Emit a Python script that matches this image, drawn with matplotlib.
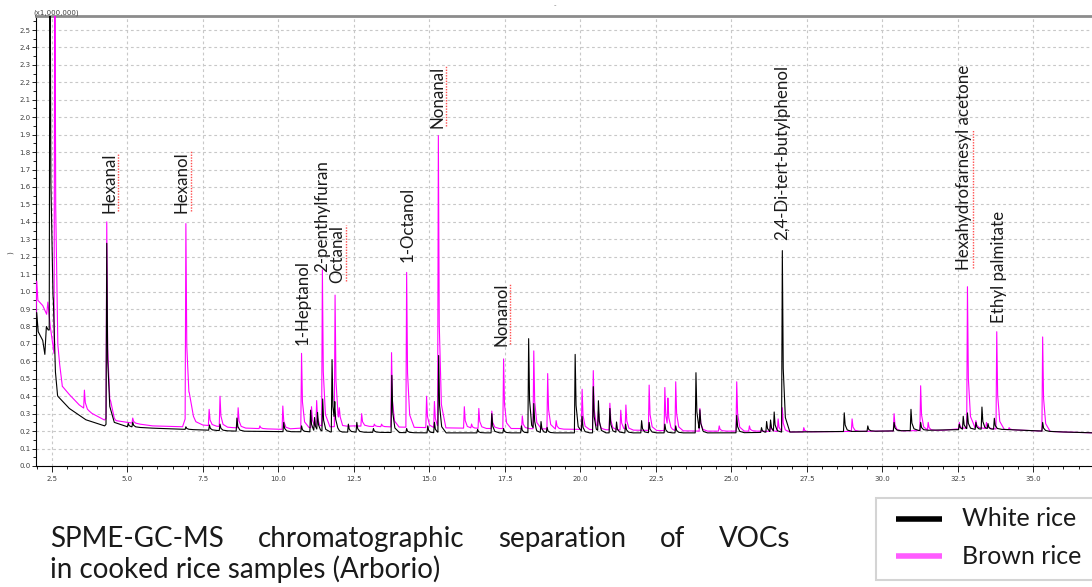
import numpy as np
import matplotlib.pyplot as plt
from matplotlib.ticker import MultipleLocator, FormatStrFormatter
from matplotlib.lines import Line2D
from matplotlib.patches import Rectangle

# retention time (min) / intensity (x1,000,000)

# White rice: baseline knots and peak apexes
white_base_rt = [1.98, 2.00, 2.05, 2.20, 2.27, 2.32, 2.38, 2.55, 2.62, 2.70, 3.08, 3.63,
                 4.25, 4.40, 5.00, 5.84, 6.94, 8.60, 10.15, 12.0, 15.0, 20.0, 25.0,
                 27.0, 30.0, 33.0, 34.0, 36.0, 37.0]
white_base_int = [0.50, 0.88, 0.77, 0.72, 0.64, 0.80, 0.78, 0.78, 0.45, 0.40, 0.33, 0.265,
                  0.23, 0.26, 0.225, 0.217, 0.21, 0.20, 0.197, 0.195, 0.19, 0.19, 0.19,
                  0.195, 0.20, 0.21, 0.21, 0.195, 0.19]
white_peak_rt = [2.44, 4.32, 5.03, 5.18, 6.94, 7.72, 8.07, 8.63, 10.18, 10.77, 11.07, 11.20,
                 11.30, 11.47, 11.78, 11.87, 12.32, 12.60, 13.15, 13.76, 14.25, 14.95, 15.17,
                 15.31, 16.60, 17.07, 17.46, 18.05, 18.29, 18.46, 18.70, 18.90, 19.83, 20.06,
                 20.43, 20.60, 20.98, 21.20, 21.50, 22.03, 22.28, 22.80, 23.16, 23.83, 23.96,
                 25.18, 26.00, 26.17, 26.30, 26.42, 26.69, 28.74, 29.52, 30.39, 30.95, 31.27,
                 32.55, 32.68, 32.82, 33.10, 33.30, 33.50, 33.71, 35.31]
white_peak_int = [3.20, 1.277, 0.245, 0.25, 0.225, 0.235, 0.24, 0.275, 0.25, 0.23, 0.32, 0.27,
                  0.30, 0.38, 0.61, 0.32, 0.24, 0.25, 0.215, 0.52, 0.215, 0.23, 0.25,
                  0.63, 0.21, 0.30, 0.215, 0.23, 0.73, 0.335, 0.254, 0.22, 0.64, 0.28,
                  0.455, 0.363, 0.33, 0.25, 0.24, 0.26, 0.25, 0.24, 0.23, 0.535, 0.30,
                  0.29, 0.22, 0.254, 0.26, 0.305, 1.235, 0.305, 0.23, 0.25, 0.325, 0.25,
                  0.24, 0.283, 0.30, 0.25, 0.337, 0.24, 0.273, 0.25]

# Brown rice
brown_base_rt = [1.98, 2.00, 2.04, 2.20, 2.33, 2.37, 2.45, 2.70, 2.76, 2.86, 3.08, 3.41,
                 3.74, 4.24, 4.45, 4.63, 5.00, 5.84, 6.83, 7.05, 7.27, 7.50, 8.50, 9.30,
                 10.1, 11.0, 12.5, 13.5, 15.0, 17.0, 18.0, 20.0, 22.0, 24.0, 26.0, 27.0,
                 30.0, 32.0, 33.0, 34.0, 36.0, 37.0]
brown_base_int = [0.85, 1.06, 0.95, 0.92, 0.87, 0.94, 0.80, 0.49, 0.46, 0.455, 0.41, 0.35,
                  0.31, 0.264, 0.30, 0.26, 0.25, 0.23, 0.225, 0.34, 0.254, 0.235, 0.22, 0.215,
                  0.21, 0.22, 0.23, 0.225, 0.22, 0.215, 0.215, 0.21, 0.205, 0.20, 0.20, 0.195,
                  0.20, 0.205, 0.22, 0.21, 0.195, 0.19]
brown_peak_rt = [2.60, 3.58, 4.32, 5.18, 6.94, 7.71, 8.07, 8.67, 9.39, 10.15, 10.77, 11.10,
                 11.27, 11.46, 11.88, 12.02, 12.76, 13.18, 13.42, 13.75, 14.25, 14.91, 15.17,
                 15.30, 16.16, 16.40, 16.64, 17.07, 17.46, 18.08, 18.46, 18.92, 19.20, 20.06,
                 20.43, 20.60, 20.98, 21.34, 21.51, 22.28, 22.80, 22.90, 23.16, 23.96, 24.60,
                 25.18, 25.60, 26.30, 26.55, 26.69, 27.40, 29.00, 30.39, 31.27, 31.52, 32.55,
                 32.82, 33.10, 33.45, 33.79, 34.20, 35.31]
brown_peak_int = [3.20, 0.435, 1.40, 0.275, 1.39, 0.325, 0.40, 0.334, 0.23, 0.344, 0.646, 0.34,
                  0.37, 1.12, 0.98, 0.29, 0.30, 0.24, 0.24, 0.65, 1.11, 0.40, 0.37,
                  1.885, 0.34, 0.24, 0.33, 0.315, 0.614, 0.287, 0.66, 0.53, 0.26, 0.44,
                  0.547, 0.30, 0.36, 0.32, 0.345, 0.464, 0.45, 0.37, 0.483, 0.33, 0.23,
                  0.483, 0.23, 0.24, 0.27, 0.33, 0.22, 0.27, 0.30, 0.46, 0.25, 0.25,
                  1.028, 0.26, 0.25, 0.77, 0.22, 0.74]

compound_names = ['Hexanal', 'Hexanol', '1-Heptanol', '2-penthylfuran', 'Octanal', '1-Octanol',
                  'Nonanal', 'Nonanol', '2,4-Di-tert-butylphenol', 'Hexahydrofarnesyl acetone',
                  'Ethyl palmitate']
series_names = ['White rice', 'Brown rice']
caption_lines = ['SPME-GC-MS chromatographic separation of VOCs',
                 'in cooked rice samples (Arborio)']

# peak outline: offset from apex (min) and fraction of apex height
SHAPE_DX = [-0.025, 0.0, 0.03, 0.10, 0.25]
SHAPE_FR = [0.0, 1.0, 0.35, 0.08, 0.0]


def build_trace(base_rt, base_int, peak_rt, peak_int):
    xs = set(base_rt)
    for rt in peak_rt:
        xs.update(rt + d for d in SHAPE_DX)
    xs = np.array(sorted(xs))
    ys = np.interp(xs, base_rt, base_int)
    for rt, h in zip(peak_rt, peak_int):
        amp = h - np.interp(rt, base_rt, base_int)
        ys += amp * np.interp(xs - rt, SHAPE_DX, SHAPE_FR, left=0, right=0)
    return xs, ys


def make_plot():
    W, H = 1092, 587
    fig = plt.figure(figsize=(W / 100, H / 100), dpi=100)
    ax = fig.add_axes([36 / W, 1 - 466 / H, 1 - 36 / W, (466 - 15.7) / H])

    bx, by = build_trace(brown_base_rt, brown_base_int, brown_peak_rt, brown_peak_int)
    wx, wy = build_trace(white_base_rt, white_base_int, white_peak_rt, white_peak_int)
    ax.plot(bx, by, color='#ff00ff', lw=0.8, zorder=3)
    ax.plot(wx, wy, color='black', lw=0.8, zorder=4)

    ax.set_xlim(1.977, 36.944)
    ax.set_ylim(0, 2.582)
    ax.xaxis.set_major_locator(MultipleLocator(2.5))
    ax.xaxis.set_minor_locator(MultipleLocator(0.5))
    ax.yaxis.set_major_locator(MultipleLocator(0.1))
    ax.yaxis.set_minor_locator(MultipleLocator(0.05))
    ax.xaxis.set_major_formatter(FormatStrFormatter('%.1f'))
    ax.yaxis.set_major_formatter(FormatStrFormatter('%.1f'))
    ax.tick_params(which='both', direction='out', labelsize=5, labelcolor='#404040',
                   color='#202020', width=0.7)
    ax.tick_params(axis='x', which='major', length=4, pad=3)
    ax.tick_params(axis='x', which='minor', length=2.5)
    ax.tick_params(axis='y', which='major', length=3, pad=1)
    ax.tick_params(axis='y', which='minor', length=2)
    ax.grid(True, which='major', color='#c8c8c8', lw=0.8, linestyle=(0, (2.5, 2.5)))
    ax.set_axisbelow(True)
    ax.spines['right'].set_visible(False)
    ax.spines['top'].set_color('#8c8c8c')
    ax.spines['top'].set_linewidth(2)
    ax.spines['left'].set_linewidth(0.8)
    ax.spines['bottom'].set_linewidth(0.8)

    fig.text(33 / W, 1 - 16 / H, '(x1,000,000)', fontsize=5, color='#404040',
             ha='left', va='bottom')
    fig.text(10 / W, 1 - 253 / H, ')', rotation=90, fontsize=5, color='#404040',
             ha='center', va='center')
    fig.text(555 / W, 1 - 5 / H, '-', fontsize=5, color='#808080', ha='center', va='center')

    # compound labels: (rt, bottom of text), fraction of length flagged by spell check
    label_anchor = [(4.40, 1.451), (6.81, 1.451), (10.80, 0.694), (11.45, 1.112),
                    (11.94, 1.049), (14.28, 1.170), (15.26, 1.938), (17.38, 0.688),
                    (26.68, 1.296), (32.69, 1.124), (33.87, 0.820)]
    squiggle = [1.0, 1.0, 0, 0, 1.0, 0, 1.0, 1.0, 0, 0.68, 0]
    texts = []
    for name, (x, y) in zip(compound_names, label_anchor):
        t = ax.text(x, y, name, rotation=90, ha='center', va='bottom', fontsize=12.2,
                    family='Lato', color='#1a1a1a', zorder=5)
        texts.append(t)

    # caption, first line justified
    renderer = fig.canvas.get_renderer()
    x0, x1 = 50, 790
    words = caption_lines[0].split()
    cap_kw = dict(fontsize=20, family='Lato', color='#1a1a1a', va='center', ha='left')
    wt = [fig.text(0, 1 - 539 / H, w, **cap_kw) for w in words]
    widths = [t.get_window_extent(renderer).width for t in wt]
    gap = (x1 - x0 - sum(widths)) / (len(words) - 1)
    pos = x0
    for t, w in zip(wt, widths):
        t.set_x(pos / W)
        pos += w + gap
    fig.text(x0 / W, 1 - 569 / H, caption_lines[1], **cap_kw)

    # legend box, right edge runs off the figure
    fig.add_artist(Rectangle((876 / W, 1 - 580 / H), 240 / W, 82 / H,
                             transform=fig.transFigure, facecolor='white',
                             edgecolor='#d4d4d4', lw=1.5))
    for (y, name, col) in zip([519, 556], series_names, ['black', '#ff5cff']):
        fig.add_artist(Line2D([896 / W, 942 / W], [1 - y / H, 1 - y / H],
                              transform=fig.transFigure, color=col, lw=4,
                              solid_capstyle='butt'))
        fig.text(962 / W, 1 - y / H, name, fontsize=18, family='Lato', color='#1a1a1a',
                 ha='left', va='center')

    fig.canvas.draw()
    for t, frac in zip(texts, squiggle):
        if not frac:
            continue
        bb = t.get_window_extent(renderer)
        xs = bb.x1 + 1
        ys0 = bb.y0 + 2
        ys1 = ys0 + (bb.height - 2) * frac
        fig.add_artist(Line2D([xs / W, xs / W], [ys0 / H, ys1 / H], transform=fig.transFigure,
                              color='#ff5050', lw=1.0, linestyle=(0, (1, 1))))

    fig.savefig('out.png', dpi=100)


if __name__ == '__main__':
    make_plot()
